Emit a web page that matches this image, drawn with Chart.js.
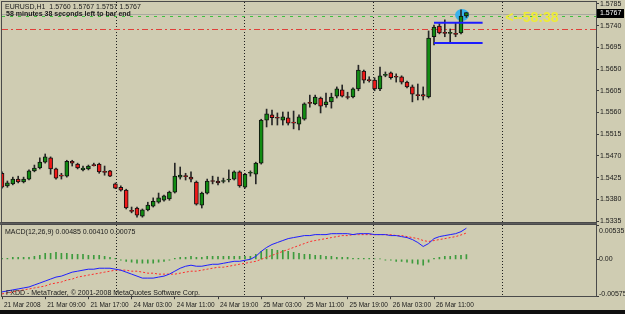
<!DOCTYPE html>
<html>
<head>
<meta charset="utf-8">
<script src="https://cdn.jsdelivr.net/npm/chart.js@4"></script>
<style>
  html, body { margin: 0; padding: 0; }
  body { width: 625px; height: 314px; overflow: hidden; position: relative; background: #cfccb2; }
  #main { position: absolute; left: 0; top: -8px; }
  #macd { position: absolute; left: 0; top: 215px; }
  #gap { position: absolute; left: 0; top: 222px; width: 597px; height: 3px; background: #5c5c5c; }
  #foot { position: absolute; left: 0; top: 310px; width: 625px; height: 4px; background: #101010; }
</style>
</head>
<body>
<div id="foot"></div>
<div id="gap"></div>
<canvas id="macd" width="625" height="99"></canvas>
<canvas id="main" width="625" height="240"></canvas>
<script>
// EURUSD H1, 21-26 Mar 2008, candles + MACD(12,26,9)
const opens = [
  1.5434, 1.5408, 1.5412, 1.5422, 1.5416, 1.5422, 1.5439, 1.5445, 1.5457, 1.5466,
  1.5443, 1.5430, 1.5428, 1.5459, 1.5453, 1.5441, 1.5443, 1.5451, 1.5453, 1.5437,
  1.5439, 1.5412, 1.5405, 1.5399, 1.5356, 1.5362, 1.5345, 1.5358, 1.5366, 1.5374,
  1.5378, 1.5381, 1.5395, 1.5426, 1.5428, 1.5426, 1.5416, 1.5368, 1.5393, 1.5418,
  1.5418, 1.5417, 1.5420, 1.5422, 1.5437, 1.5405, 1.5434, 1.5432, 1.5455, 1.5544,
  1.5555, 1.5549, 1.5544, 1.5549, 1.5540, 1.5536, 1.5546, 1.5580, 1.5578, 1.5590,
  1.5576, 1.5582, 1.5594, 1.5607, 1.5592, 1.5592, 1.5609, 1.5646, 1.5627, 1.5627,
  1.5609, 1.5637, 1.5642, 1.5634, 1.5634, 1.5623, 1.5613, 1.5596, 1.5597, 1.5592,
  1.5717, 1.5739, 1.5725, 1.5724, 1.5723, 1.5725, 1.5760
];
const highs = [
  1.5437, 1.5418, 1.5426, 1.5428, 1.5426, 1.5441, 1.5451, 1.5466, 1.5474, 1.5468,
  1.5445, 1.5434, 1.5461, 1.5461, 1.5455, 1.5449, 1.5451, 1.5455, 1.5455, 1.5449,
  1.5440, 1.5414, 1.5408, 1.5401, 1.5364, 1.5364, 1.5360, 1.5374, 1.5383, 1.5393,
  1.5389, 1.5397, 1.5455, 1.5447, 1.5434, 1.5437, 1.5418, 1.5395, 1.5422, 1.5428,
  1.5426, 1.5424, 1.5441, 1.5439, 1.5439, 1.5434, 1.5439, 1.5457, 1.5546, 1.5567,
  1.5565, 1.5559, 1.5561, 1.5561, 1.5563, 1.5555, 1.5580, 1.5596, 1.5596, 1.5592,
  1.5600, 1.5600, 1.5613, 1.5617, 1.5602, 1.5611, 1.5658, 1.5648, 1.5634, 1.5632,
  1.5654, 1.5644, 1.5644, 1.5640, 1.5636, 1.5625, 1.5617, 1.5619, 1.5613, 1.5729,
  1.5741, 1.5744, 1.5752, 1.5733, 1.5746, 1.5773, 1.5767
];
const lows = [
  1.5403, 1.5405, 1.5410, 1.5414, 1.5414, 1.5420, 1.5437, 1.5443, 1.5455, 1.5432,
  1.5422, 1.5422, 1.5426, 1.5449, 1.5443, 1.5439, 1.5441, 1.5449, 1.5434, 1.5430,
  1.5427, 1.5402, 1.5397, 1.5360, 1.5352, 1.5343, 1.5343, 1.5356, 1.5364, 1.5372,
  1.5376, 1.5378, 1.5393, 1.5422, 1.5420, 1.5416, 1.5368, 1.5362, 1.5391, 1.5412,
  1.5410, 1.5414, 1.5416, 1.5420, 1.5405, 1.5403, 1.5428, 1.5412, 1.5453, 1.5530,
  1.5534, 1.5534, 1.5534, 1.5534, 1.5526, 1.5524, 1.5544, 1.5571, 1.5576, 1.5559,
  1.5571, 1.5569, 1.5590, 1.5592, 1.5588, 1.5590, 1.5605, 1.5621, 1.5623, 1.5605,
  1.5605, 1.5634, 1.5629, 1.5623, 1.5619, 1.5611, 1.5582, 1.5586, 1.5586, 1.5590,
  1.5700, 1.5723, 1.5717, 1.5704, 1.5717, 1.5723, 1.5757
];
const closes = [
  1.5405, 1.5414, 1.5422, 1.5416, 1.5422, 1.5439, 1.5445, 1.5457, 1.5468, 1.5443,
  1.5424, 1.5428, 1.5459, 1.5455, 1.5445, 1.5445, 1.5449, 1.5450, 1.5437, 1.5436,
  1.5428, 1.5403, 1.5399, 1.5362, 1.5355, 1.5347, 1.5358, 1.5368, 1.5376, 1.5383,
  1.5387, 1.5395, 1.5428, 1.5430, 1.5427, 1.5422, 1.5370, 1.5393, 1.5418, 1.5417,
  1.5414, 1.5418, 1.5421, 1.5437, 1.5408, 1.5432, 1.5435, 1.5455, 1.5544, 1.5557,
  1.5549, 1.5548, 1.5551, 1.5538, 1.5538, 1.5551, 1.5578, 1.5579, 1.5592, 1.5573,
  1.5582, 1.5592, 1.5609, 1.5594, 1.5591, 1.5609, 1.5648, 1.5627, 1.5626, 1.5609,
  1.5636, 1.5638, 1.5632, 1.5633, 1.5623, 1.5613, 1.5598, 1.5595, 1.5594, 1.5714,
  1.5737, 1.5725, 1.5724, 1.5725, 1.5722, 1.5760, 1.5767
];

const macdMain = [
  -0.00508, -0.00493, -0.00477, -0.00462, -0.00446, -0.00431, -0.00400, -0.00370, -0.00339, -0.00308,
  -0.00277, -0.00262, -0.00231, -0.00200, -0.00185, -0.00169, -0.00154, -0.00154, -0.00139, -0.00139,
  -0.00139, -0.00154, -0.00169, -0.00200, -0.00231, -0.00262, -0.00293, -0.00293, -0.00293, -0.00277,
  -0.00262, -0.00231, -0.00185, -0.00139, -0.00108, -0.00092, -0.00108, -0.00108, -0.00092, -0.00077,
  -0.00077, -0.00062, -0.00046, -0.00031, -0.00031, -0.00015, 0.00000, 0.00046, 0.00123, 0.00185,
  0.00231, 0.00262, 0.00293, 0.00323, 0.00339, 0.00354, 0.00370, 0.00370, 0.00385, 0.00385,
  0.00385, 0.00400, 0.00400, 0.00400, 0.00400, 0.00385, 0.00400, 0.00400, 0.00400, 0.00385,
  0.00385, 0.00385, 0.00370, 0.00370, 0.00354, 0.00339, 0.00308, 0.00262, 0.00200, 0.00246,
  0.00323, 0.00354, 0.00370, 0.00385, 0.00400, 0.00431, 0.00485
];
const macdSignal = [
  -0.00539, -0.00524, -0.00508, -0.00493, -0.00477, -0.00462, -0.00446, -0.00431, -0.00416, -0.00385,
  -0.00370, -0.00354, -0.00323, -0.00308, -0.00277, -0.00262, -0.00246, -0.00231, -0.00216, -0.00200,
  -0.00185, -0.00169, -0.00169, -0.00169, -0.00185, -0.00185, -0.00200, -0.00216, -0.00216, -0.00231,
  -0.00231, -0.00231, -0.00231, -0.00216, -0.00200, -0.00185, -0.00185, -0.00169, -0.00154, -0.00139,
  -0.00123, -0.00123, -0.00108, -0.00092, -0.00077, -0.00062, -0.00046, -0.00031, 0.00000, 0.00031,
  0.00062, 0.00092, 0.00123, 0.00154, 0.00185, 0.00216, 0.00246, 0.00277, 0.00293, 0.00308,
  0.00323, 0.00339, 0.00354, 0.00370, 0.00370, 0.00385, 0.00385, 0.00385, 0.00385, 0.00385,
  0.00385, 0.00385, 0.00385, 0.00370, 0.00370, 0.00354, 0.00339, 0.00323, 0.00293, 0.00277,
  0.00293, 0.00308, 0.00323, 0.00339, 0.00354, 0.00380, 0.00410
];
const macdHist = [
  0.00015, 0.00015, 0.00031, 0.00031, 0.00031, 0.00031, 0.00046, 0.00062, 0.00092, 0.00092,
  0.00108, 0.00092, 0.00092, 0.00077, 0.00077, 0.00077, 0.00062, 0.00062, 0.00062, 0.00046,
  0.00031, 0.00015, -0.00015, -0.00031, -0.00046, -0.00062, -0.00062, -0.00062, -0.00062, -0.00046,
  -0.00031, -0.00015, 0.00015, 0.00031, 0.00031, 0.00046, 0.00031, 0.00031, 0.00046, 0.00046,
  0.00046, 0.00046, 0.00046, 0.00046, 0.00046, 0.00046, 0.00046, 0.00077, 0.00123, 0.00154,
  0.00154, 0.00139, 0.00139, 0.00123, 0.00108, 0.00092, 0.00077, 0.00077, 0.00062, 0.00062,
  0.00046, 0.00046, 0.00031, 0.00031, 0.00031, 0.00015, 0.00015, 0.00015, 0.00015, 0.00005,
  0.00005, -0.00015, -0.00015, -0.00031, -0.00031, -0.00046, -0.00062, -0.00077, -0.00092, -0.00046,
  0.00015, 0.00031, 0.00046, 0.00046, 0.00062, 0.00062, 0.00075
];

const tickLabels = ['21 Mar 2008', '21 Mar 09:00', '21 Mar 17:00', '24 Mar 03:00', '24 Mar 11:00',
  '24 Mar 19:00', '25 Mar 03:00', '25 Mar 11:00', '25 Mar 19:00', '26 Mar 03:00', '26 Mar 11:00'];
const tickEvery = 8;
const slots = 110;
const priceTicks = [1.5335, 1.5380, 1.5425, 1.5470, 1.5515, 1.5560, 1.5605, 1.5650, 1.5695, 1.5740, 1.5785];
const priceMin = 1.5333, priceMax = 1.5789;
const macdTicks = [0.00535, 0, -0.00575];
const macdTickLabels = ['0.00535', '0.00', '-0.00575'];
// day separators sit just before the first bar of each new day
const daySeparators = [21.1, 44.8, 68.7, 92.6];
const lastPrice = 1.5767;
const levelGrey = 1.5764, levelGreen = 1.5760, levelRed = 1.5733;
const boxFrom = 80, boxTo = 89, boxTop = 1.5746, boxBottom = 1.5704;

const FONT = '"Liberation Sans", Arial, sans-serif';
const INK = '#1a1a1a';
const upColor = '#128c12', downColor = '#f01818';

function vline(ctx, px, top, bottom) {
  ctx.beginPath(); ctx.moveTo(px, top); ctx.lineTo(px, bottom); ctx.stroke();
}
function hline(ctx, py, left, right) {
  ctx.beginPath(); ctx.moveTo(left, py); ctx.lineTo(right, py); ctx.stroke();
}
function drawSeparators(chart) {
  const { ctx, chartArea: a, scales: { x } } = chart;
  ctx.save();
  ctx.strokeStyle = '#1e1e1e'; ctx.lineWidth = 1; ctx.setLineDash([1, 2]);
  daySeparators.forEach(i => vline(ctx, Math.round(x.getPixelForValue(i)) + 0.5, a.top, a.bottom));
  ctx.restore();
}
function drawFrame(chart) {
  const { ctx, chartArea: a } = chart;
  ctx.save();
  ctx.strokeStyle = '#4a4a4a'; ctx.lineWidth = 1;
  ctx.strokeRect(Math.round(a.left) - 0.5, Math.round(a.top) - 0.5, Math.round(a.width) + 1, Math.round(a.height) + 1);
  ctx.restore();
}

const mainDecor = {
  id: 'mainDecor',
  beforeDatasetsDraw(chart) {
    const { ctx, chartArea: a, scales: { x, y } } = chart;
    drawSeparators(chart);
    ctx.save();
    ctx.beginPath(); ctx.rect(a.left, a.top, a.width, a.height); ctx.clip();
    ctx.lineWidth = 1;
    ctx.strokeStyle = '#a9a9a0';
    hline(ctx, Math.round(y.getPixelForValue(levelGrey)) + 0.5, a.left, a.right);
    ctx.strokeStyle = '#3fbf3f'; ctx.setLineDash([3, 5]);
    hline(ctx, Math.round(y.getPixelForValue(levelGreen)) + 0.5, a.left, a.right);
    ctx.strokeStyle = '#e0403a'; ctx.setLineDash([6, 3, 2, 3]);
    hline(ctx, Math.round(y.getPixelForValue(levelRed)) + 0.5, a.left, a.right);
    ctx.setLineDash([]);
    ctx.fillStyle = '#38b2ea';
    ctx.beginPath();
    ctx.ellipse(x.getPixelForValue(85.2), y.getPixelForValue(1.5762), 7, 6, 0, 0, Math.PI * 2);
    ctx.fill();
    ctx.restore();
  },
  afterDraw(chart) {
    const { ctx, chartArea: a, scales: { x, y } } = chart;
    drawFrame(chart);
    ctx.save();
    ctx.font = `7px ${FONT}`; ctx.fillStyle = INK; ctx.textBaseline = 'middle'; ctx.textAlign = 'left';
    ctx.fillText('EURUSD,H1  1.5760 1.5767 1.5757 1.5767', a.left + 3, a.top + 5);
    ctx.font = `bold 7px ${FONT}`;
    ctx.fillText('58 minutes 38 seconds left to bar end', a.left + 4, a.top + 12);
    ctx.font = `bold 14px ${FONT}`; ctx.fillStyle = '#eeec36';
    ctx.fillText('<--58:38', x.getPixelForValue(93.2), a.top + 16);
    const py = Math.round(y.getPixelForValue(lastPrice));
    ctx.fillStyle = '#000';
    ctx.fillRect(a.right + 1, py - 4, 27, 9);
    ctx.font = `7px ${FONT}`; ctx.fillStyle = '#fff';
    ctx.fillText(lastPrice.toFixed(4), a.right + 4, py + 0.5);
    ctx.restore();
  }
};

const macdDecor = {
  id: 'macdDecor',
  beforeDatasetsDraw(chart) { drawSeparators(chart); },
  afterDraw(chart) {
    const { ctx, chartArea: a, scales: { y } } = chart;
    drawFrame(chart);
    ctx.save();
    ctx.font = `7px ${FONT}`; ctx.fillStyle = INK; ctx.textAlign = 'left';
    ctx.textBaseline = 'middle';
    ctx.fillText('MACD(12,26,9) 0.00485 0.00410 0.00075', a.left + 3, a.top + 7);
    ctx.textBaseline = 'bottom';
    ctx.fillText('FXDD - MetaTrader, \u00a9 2001-2008 MetaQuotes Software Corp.', a.left + 4, a.bottom);
    const lx = a.right + 3;
    ctx.textBaseline = 'top';
    ctx.fillText(macdTickLabels[0], lx, a.top + 3);
    ctx.textBaseline = 'middle';
    ctx.fillText(macdTickLabels[1], lx, y.getPixelForValue(macdTicks[1]));
    ctx.textBaseline = 'bottom';
    ctx.fillText(macdTickLabels[2], lx, a.bottom + 1);
    ctx.restore();
  }
};

const xBase = { type: 'linear', min: 0, max: slots, offset: false, grid: { offset: false, drawOnChartArea: false } };

new Chart(document.getElementById('main'), {
  type: 'bar',
  data: {
    datasets: [
      {
        label: 'Body',
        data: opens.map((o, i) => ({ x: i, y: [o, closes[i]] })),
        backgroundColor: opens.map((o, i) => (closes[i] >= o ? upColor : downColor)),
        borderColor: '#111',
        borderWidth: 1,
        borderSkipped: false,
        barThickness: 4,
        minBarLength: 1,
        grouped: false,
        order: 1
      },
      {
        label: 'Wick',
        data: lows.map((l, i) => ({ x: i, y: [l, highs[i]] })),
        backgroundColor: '#262626',
        barThickness: 1,
        grouped: false,
        order: 2
      },
      {
        type: 'line', label: 'Box top',
        data: [{ x: boxFrom, y: boxTop }, { x: boxTo, y: boxTop }],
        borderColor: '#1c1cff', borderWidth: 2, pointRadius: 0, order: 0
      },
      {
        type: 'line', label: 'Box bottom',
        data: [{ x: boxFrom, y: boxBottom }, { x: boxTo, y: boxBottom }],
        borderColor: '#1c1cff', borderWidth: 2, pointRadius: 0, order: 0
      }
    ]
  },
  options: {
    responsive: false,
    animation: false,
    events: [],
    layout: { padding: { top: 10, bottom: 10, left: 2, right: 0 } },
    plugins: { legend: { display: false }, tooltip: { enabled: false } },
    scales: {
      x: { ...xBase, display: false },
      y: {
        type: 'linear', position: 'right', min: priceMin, max: priceMax,
        afterBuildTicks: s => { s.ticks = priceTicks.map(v => ({ value: v })); },
        afterFit: s => { s.width = 29; },
        ticks: { font: { family: FONT, size: 7, lineHeight: 1.2 }, color: INK, padding: 1, callback: v => v.toFixed(4) },
        grid: { drawOnChartArea: false, tickLength: 3, color: '#3a3a3a' },
        border: { display: false }
      }
    }
  },
  plugins: [mainDecor]
});

new Chart(document.getElementById('macd'), {
  type: 'bar',
  data: {
    datasets: [
      {
        type: 'line', label: 'MACD',
        data: macdMain.map((v, i) => ({ x: i, y: v })),
        borderColor: '#1e1eff', borderWidth: 1, pointRadius: 0, order: 1
      },
      {
        type: 'line', label: 'Signal',
        data: macdSignal.map((v, i) => ({ x: i, y: v })),
        borderColor: '#ff2a2a', borderWidth: 1, borderDash: [2, 2], pointRadius: 0, order: 2
      },
      {
        label: 'Histogram',
        data: macdHist.map((v, i) => ({ x: i, y: v })),
        backgroundColor: '#3d9b3d',
        barThickness: 1,
        grouped: false,
        order: 3
      }
    ]
  },
  options: {
    responsive: false,
    animation: false,
    events: [],
    layout: { padding: { top: 10, bottom: 3, left: 2, right: 0 } },
    plugins: { legend: { display: false }, tooltip: { enabled: false } },
    scales: {
      x: {
        ...xBase,
        afterBuildTicks: s => { s.ticks = tickLabels.map((_, k) => ({ value: k * tickEvery })); },
        ticks: {
          callback: v => tickLabels[v / tickEvery],
          align: 'start', maxRotation: 0, autoSkip: false, labelOffset: 2, padding: 2,
          font: { family: FONT, size: 6.5, lineHeight: 1.2 }, color: INK
        },
        grid: { offset: false, drawOnChartArea: false, tickLength: 3, color: '#3a3a3a' },
        border: { display: false }
      },
      y: {
        type: 'linear', position: 'right', min: -0.00575, max: 0.00535,
        afterBuildTicks: s => { s.ticks = macdTicks.map(v => ({ value: v })); },
        afterFit: s => { s.width = 29; },
        ticks: { display: false },
        grid: { drawOnChartArea: false, tickLength: 3, color: '#3a3a3a' },
        border: { display: false }
      }
    }
  },
  plugins: [macdDecor]
});
</script>
</body>
</html>
